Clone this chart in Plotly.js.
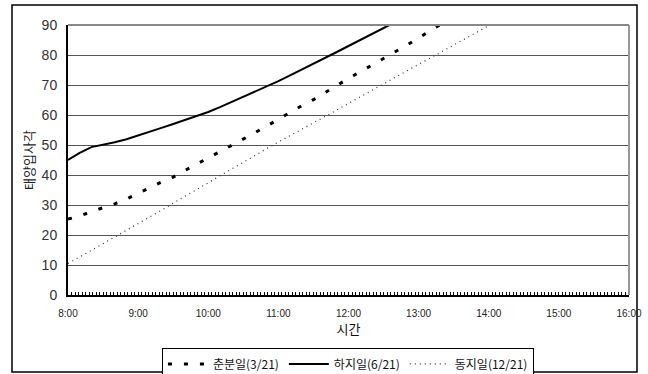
<!DOCTYPE html>
<html>
<head>
<meta charset="utf-8">
<script src="https://cdn.plot.ly/plotly-3.0.1.min.js"></script>
<style>
  html, body { margin: 0; padding: 0; background: #fff; }
  #chart { width: 648px; height: 374px; }
</style>
</head>
<body>
<div id="chart"></div>
<script>
// Minutes after 8:00 for each sample
const minutesEquinox = [0, 10, 20, 30, 40, 50, 60, 70, 80, 90, 100, 110, 120, 130, 140, 150, 160, 170, 180, 190, 200, 210, 220, 230, 240, 250, 260, 270, 280, 290, 300, 310, 318];
const equinox = [25.3, 26.3, 27.8, 29.0, 30.4, 32.0, 33.8, 35.8, 37.7, 39.3, 41.5, 43.6, 45.7, 47.7, 49.7, 51.8, 54.1, 56.3, 58.6, 61.0, 63.1, 65.1, 67.5, 70.0, 72.2, 74.4, 76.6, 78.8, 81.0, 83.3, 85.7, 88.0, 90.0];

const minutesSummer = [0, 10, 20, 30, 40, 50, 60, 70, 80, 90, 100, 110, 120, 130, 140, 150, 160, 170, 180, 190, 200, 210, 220, 230, 240, 250, 260, 270, 275];
const summer = [45.0, 47.4, 49.3, 50.0, 50.9, 51.9, 53.1, 54.4, 55.7, 57.0, 58.3, 59.6, 61.0, 62.6, 64.3, 66.0, 67.7, 69.5, 71.3, 73.2, 75.1, 77.0, 79.0, 81.0, 83.0, 85.0, 87.0, 89.0, 90.0];

const minutesWinter = [0, 10, 20, 30, 40, 50, 60, 70, 80, 90, 100, 110, 120, 130, 140, 150, 160, 170, 180, 190, 200, 210, 220, 230, 240, 250, 260, 270, 280, 290, 300, 310, 320, 330, 340, 350, 360, 361];
const winter = [10.5, 12.6, 14.9, 17.1, 19.3, 21.5, 23.7, 26.0, 28.3, 30.6, 32.9, 35.2, 37.5, 39.8, 42.0, 44.3, 46.5, 48.8, 51.0, 53.2, 55.3, 57.4, 59.5, 61.7, 63.9, 66.1, 68.3, 70.5, 72.7, 74.8, 76.9, 79.0, 81.2, 83.3, 85.4, 87.6, 89.8, 90.0];

const seriesNames = ['춘분일(3/21)', '하지일(6/21)', '동지일(12/21)'];
const hourTickVals = [0, 60, 120, 180, 240, 300, 360, 420, 480];
const hourTickText = ['8:00', '9:00', '10:00', '11:00', '12:00', '13:00', '14:00', '15:00', '16:00'];
const angleTicks = [0, 10, 20, 30, 40, 50, 60, 70, 80, 90];

const baseFont = 'Liberation Sans, Arial, sans-serif';
const korFont = 'Noto Sans CJK KR, Liberation Sans, sans-serif';

const traces = [
  {
    x: minutesEquinox, y: equinox, name: seriesNames[0], type: 'scatter', mode: 'lines',
    line: { color: '#000', width: 3, dash: '4px,12px' }, cliponaxis: true
  },
  {
    x: minutesSummer, y: summer, name: seriesNames[1], type: 'scatter', mode: 'lines',
    line: { color: '#000', width: 2 }, cliponaxis: true
  },
  {
    x: minutesWinter, y: winter, name: seriesNames[2], type: 'scatter', mode: 'lines',
    line: { color: '#333', width: 1.2, dash: '1px,4px' }, cliponaxis: true
  }
];

const layout = {
  width: 648, height: 374,
  margin: { l: 68, r: 19, t: 25, b: 79, autoexpand: false },
  paper_bgcolor: '#fff', plot_bgcolor: '#fff',
  showlegend: true,
  legend: {
    orientation: 'h', x: 0.499, xanchor: 'center', y: -0.198, yanchor: 'top',
    bordercolor: '#000', borderwidth: 1, bgcolor: '#fff',
    font: { family: korFont, size: 12, color: '#111' },
    itemwidth: 40, tracegroupgap: 0
  },
  xaxis: {
    range: [0, 480], tickmode: 'array', tickvals: hourTickVals, ticktext: hourTickText,
    showgrid: false, zeroline: false, automargin: false,
    showline: true, linecolor: '#000', linewidth: 2,
    ticks: 'inside', ticklen: 3, tickcolor: '#000', ticklabelstandoff: 8,
    minor: { dtick: 3, tick0: 0, ticks: 'inside', ticklen: 3, tickcolor: '#000', tickwidth: 1 },
    tickfont: { family: 'Liberation Sans Narrow, Arial Narrow, Liberation Sans, sans-serif', size: 10, color: '#222' },
    title: { text: '시간', font: { family: korFont, size: 13, color: '#111' }, standoff: 6 }
  },
  yaxis: {
    range: [0, 90], tickmode: 'array', tickvals: angleTicks,
    showgrid: true, gridcolor: '#555', gridwidth: 1,
    zeroline: false, showline: true, linecolor: '#000', linewidth: 2, automargin: false,
    ticks: '', ticklabelstandoff: 6, tickfont: { family: baseFont, size: 14, color: '#333' },
    title: { text: '태양입사각', font: { family: korFont, size: 13, color: '#222' }, standoff: 4 }
  },
  shapes: [
    // outer frame of the chart area
    { type: 'rect', xref: 'paper', yref: 'paper',
      x0: -56 / 561, x1: 569 / 561, y0: -77 / 270, y1: 290 / 270,
      line: { color: '#000', width: 1.5 }, fillcolor: 'rgba(0,0,0,0)', layer: 'below' },
    // right edge of the plotting area
    { type: 'line', xref: 'paper', yref: 'paper', x0: 1, x1: 1, y0: 0, y1: 1,
      line: { color: '#999', width: 2 } },
    // top edge at 90
    { type: 'line', xref: 'paper', yref: 'paper', x0: 0, x1: 1, y0: 1, y1: 1,
      line: { color: '#888', width: 2 } }
  ]
};

Plotly.newPlot('chart', traces, layout, { displayModeBar: false, staticPlot: true });
</script>
</body>
</html>
